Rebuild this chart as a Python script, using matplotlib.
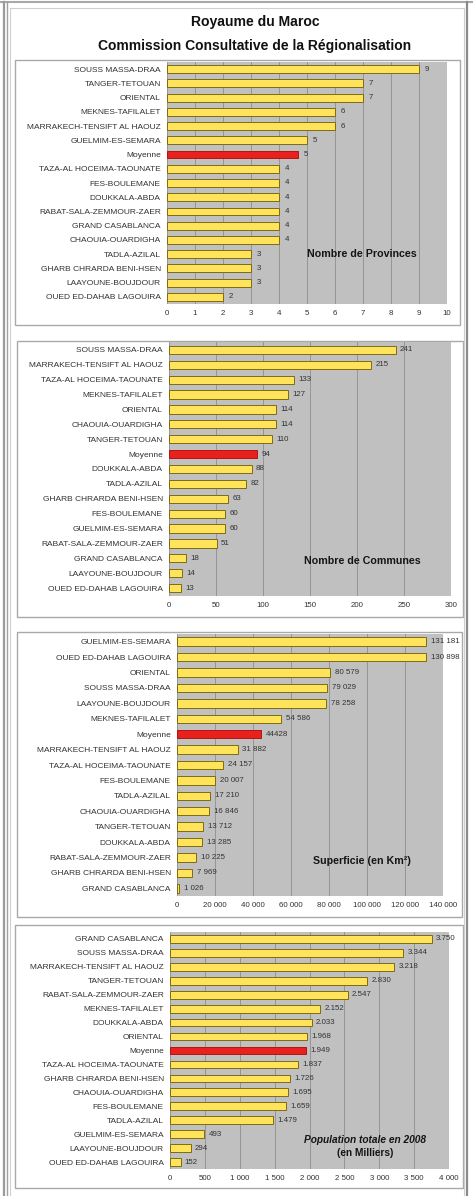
import matplotlib
matplotlib.use("Agg")
import matplotlib.pyplot as plt
from matplotlib.patches import Rectangle
from matplotlib.lines import Line2D
from matplotlib.ticker import FuncFormatter

plt.rcParams['font.family'] = ['Liberation Sans', 'DejaVu Sans']

W, H = 473, 1196

# ---------------- data ----------------
prov_labels = ["SOUSS MASSA-DRAA", "TANGER-TETOUAN", "ORIENTAL", "MEKNES-TAFILALET",
               "MARRAKECH-TENSIFT AL HAOUZ", "GUELMIM-ES-SEMARA", "Moyenne",
               "TAZA-AL HOCEIMA-TAOUNATE", "FES-BOULEMANE", "DOUKKALA-ABDA",
               "RABAT-SALA-ZEMMOUR-ZAER", "GRAND CASABLANCA", "CHAOUIA-OUARDIGHA",
               "TADLA-AZILAL", "GHARB CHRARDA BENI-HSEN", "LAAYOUNE-BOUJDOUR",
               "OUED ED-DAHAB LAGOUIRA"]
prov_values = [9, 7, 7, 6, 6, 5, 4.69, 4, 4, 4, 4, 4, 4, 3, 3, 3, 2]

comm_labels = ["SOUSS MASSA-DRAA", "MARRAKECH-TENSIFT AL HAOUZ", "TAZA-AL HOCEIMA-TAOUNATE",
               "MEKNES-TAFILALET", "ORIENTAL", "CHAOUIA-OUARDIGHA", "TANGER-TETOUAN",
               "Moyenne", "DOUKKALA-ABDA", "TADLA-AZILAL", "GHARB CHRARDA BENI-HSEN",
               "FES-BOULEMANE", "GUELMIM-ES-SEMARA", "RABAT-SALA-ZEMMOUR-ZAER",
               "GRAND CASABLANCA", "LAAYOUNE-BOUJDOUR", "OUED ED-DAHAB LAGOUIRA"]
comm_values = [241, 215, 133, 127, 114, 114, 110, 94, 88, 82, 63, 60, 60, 51, 18, 14, 13]

sup_labels = ["GUELMIM-ES-SEMARA", "OUED ED-DAHAB LAGOUIRA", "ORIENTAL", "SOUSS MASSA-DRAA",
              "LAAYOUNE-BOUJDOUR", "MEKNES-TAFILALET", "Moyenne", "MARRAKECH-TENSIFT AL HAOUZ",
              "TAZA-AL HOCEIMA-TAOUNATE", "FES-BOULEMANE", "TADLA-AZILAL", "CHAOUIA-OUARDIGHA",
              "TANGER-TETOUAN", "DOUKKALA-ABDA", "RABAT-SALA-ZEMMOUR-ZAER",
              "GHARB CHRARDA BENI-HSEN", "GRAND CASABLANCA"]
sup_values = [131181, 130898, 80579, 79029, 78258, 54586, 44428, 31882, 24157, 20007,
              17210, 16846, 13712, 13285, 10225, 7969, 1026]

pop_labels = ["GRAND CASABLANCA", "SOUSS MASSA-DRAA", "MARRAKECH-TENSIFT AL HAOUZ",
              "TANGER-TETOUAN", "RABAT-SALA-ZEMMOUR-ZAER", "MEKNES-TAFILALET", "DOUKKALA-ABDA",
              "ORIENTAL", "Moyenne", "TAZA-AL HOCEIMA-TAOUNATE", "GHARB CHRARDA BENI-HSEN",
              "CHAOUIA-OUARDIGHA", "FES-BOULEMANE", "TADLA-AZILAL", "GUELMIM-ES-SEMARA",
              "LAAYOUNE-BOUJDOUR", "OUED ED-DAHAB LAGOUIRA"]
pop_values = [3750, 3344, 3218, 2830, 2547, 2152, 2033, 1968, 1949, 1837, 1726, 1695,
              1659, 1479, 493, 294, 152]

main_title1 = "Royaume du Maroc"
main_title2 = "Commission Consultative de la Régionalisation"

# ---------------- styling ----------------
YELLOW = "#FFE35A"
YEDGE = "#7d6b12"
RED = "#E8211D"
PLOTBG = "#C1C0C1"
GRID = "#8e8e8e"
TXT = "#333333"
BOXEDGE = "#a9a9a9"
LABSZ = 6.0
VALSZ = 5.7

fig = plt.figure(figsize=(W / 100, H / 100), dpi=100)
fig.patch.set_facecolor("white")


def fx(x):
    return x / W


def fy(y):
    return 1 - y / H


def add_rect(x0, y0, x1, y1, ec, lw=1.0, fc="none", z=0):
    r = Rectangle((fx(x0), fy(y1)), fx(x1) - fx(x0), fy(y0) - fy(y1),
                  transform=fig.transFigure, fc=fc, ec=ec, lw=lw, zorder=z)
    fig.patches.append(r)


def add_line(xs, ys, color, lw):
    fig.lines.append(Line2D([fx(v) for v in xs], [fy(v) for v in ys],
                            transform=fig.transFigure, color=color, lw=lw))


# outer frame
add_line([0, W], [2, 2], "#a8a8a8", 1.5)
add_line([3.5, 3.5], [2, H], "#9a9a9a", 1.6)
add_line([6.8, 6.8], [2, H], "#a0a0a0", 1.0)
add_line([9.5, 9.5], [8, H], "#d0d0d0", 0.8)
add_line([9.5, 464], [8, 8], "#cfcfcf", 0.8)
add_line([464, 464], [8, H], "#cfcfcf", 0.8)
add_line([467, 467], [2, H], "#8a8a8a", 1.6)

fig.text(fx(255), fy(22), main_title1, ha="center", va="center", fontsize=10.1,
         fontweight="bold", color="#111111")
fig.text(fx(255), fy(46), main_title2, ha="center", va="center", fontsize=10,
         fontweight="bold", color="#111111")


def space_fmt(v):
    return f"{int(round(v)):,}".replace(",", " ")


def dot_fmt(v):
    return f"{int(round(v)):,}".replace(",", ".")


def panel(axpx, boxpx, labels, values, xmax, step, tickfmt, valfmt, offset=4):
    add_rect(*boxpx, ec=BOXEDGE, lw=1.0, fc="white", z=-1)
    x0, y0, x1, y1 = axpx
    ax = fig.add_axes([fx(x0), fy(y1), fx(x1) - fx(x0), fy(y0) - fy(y1)])
    ax.set_facecolor(PLOTBG)
    n = len(labels)
    pos = list(range(n))
    colors = [RED if l == "Moyenne" else YELLOW for l in labels]
    edges = ["#b01512" if l == "Moyenne" else YEDGE for l in labels]
    ax.barh(pos, values, height=0.55, color=colors, edgecolor=edges, linewidth=0.7,
            zorder=3)
    ax.set_ylim(n - 0.5, -0.5)
    ax.set_xlim(0, xmax)
    ticks = [i * step for i in range(int(round(xmax / step)) + 1)]
    ax.set_xticks(ticks)
    ax.xaxis.set_major_formatter(FuncFormatter(lambda v, p: tickfmt(v)))
    ax.grid(axis="x", color=GRID, lw=0.6, zorder=1)
    ax.set_axisbelow(True)
    ax.set_yticks(pos)
    ax.set_yticklabels(labels)
    ax.tick_params(axis="y", length=0, pad=4.5, labelsize=LABSZ, labelcolor=TXT)
    ax.tick_params(axis="x", length=0, pad=4.5, labelsize=VALSZ, labelcolor=TXT)
    for s in ax.spines.values():
        s.set_visible(False)
    for i, (l, v) in enumerate(zip(labels, values)):
        ax.annotate(valfmt(l, v), (v, i), xytext=(offset, 0), textcoords="offset points",
                    ha="left", va="center", fontsize=VALSZ, color=TXT, zorder=4,
                    annotation_clip=False)
    return ax


int_fmt = lambda v: f"{int(round(v))}"

panel((167, 62, 447, 304), (15, 60, 460, 325), prov_labels, prov_values, 10, 1,
      int_fmt, lambda l, v: f"{int(round(v))}")
fig.text(fx(362), fy(254), "Nombre de Provinces", ha="center", va="center",
         fontsize=7.7, fontweight="bold", color="#151515")

panel((169, 342.5, 451, 595.5), (17, 341, 463, 617), comm_labels, comm_values, 300, 50,
      int_fmt, lambda l, v: f"{int(round(v))}", offset=3)
fig.text(fx(362), fy(561), "Nombre de Communes", ha="center", va="center",
         fontsize=7.7, fontweight="bold", color="#151515")

panel((177, 634, 443, 896), (17, 632, 462, 917), sup_labels, sup_values, 140000, 20000,
      lambda v: space_fmt(v),
      lambda l, v: str(int(round(v))) if l == "Moyenne" else space_fmt(v), offset=3.5)
fig.text(fx(362), fy(861), "Superficie (en Km²)", ha="center", va="center",
         fontsize=7.7, fontweight="bold", color="#151515")

panel((170, 932, 449, 1169), (15, 925, 463, 1188), pop_labels, pop_values, 4000, 500,
      lambda v: space_fmt(v), lambda l, v: dot_fmt(v), offset=3)
fig.text(fx(365), fy(1140), "Population totale en 2008", ha="center", va="center",
         fontsize=7.3, fontweight="bold", fontstyle="italic", color="#151515")
fig.text(fx(365), fy(1153), "(en Milliers)", ha="center", va="center",
         fontsize=7.3, fontweight="bold", color="#151515")

fig.savefig("out.png", dpi=100, facecolor="white")
